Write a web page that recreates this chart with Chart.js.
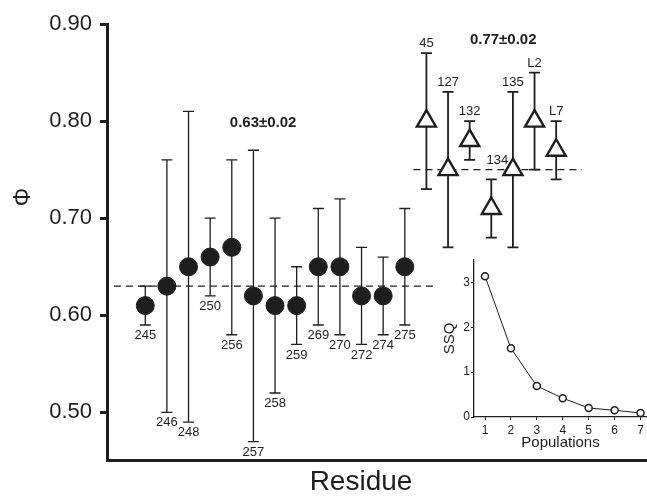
<!DOCTYPE html>
<html lang="en">
<head>
    <meta charset="UTF-8">
    <title>Phi values by residue</title>
    <script src="https://cdn.jsdelivr.net/npm/chart.js"></script>
    <style>
        body {
            margin: 0;
            background: #ffffff;
        }
        .wrap {
            position: relative;
            width: 647px;
            height: 502px;
        }
        #mainChart {
            position: absolute;
            left: 0;
            top: 0;
        }
        #insetChart {
            position: absolute;
            left: 425px;
            top: 250px;
        }
    </style>
</head>
<body>
    <div class="wrap">
        <canvas id="mainChart" width="647" height="502"></canvas>
        <canvas id="insetChart" width="222" height="205"></canvas>
    </div>

    <script>
        // filled circles: residues
        const residues = ['245', '246', '248', '250', '256', '257', '258', '259', '269', '270', '272', '274', '275'];
        const phiResidues = [0.61, 0.63, 0.65, 0.66, 0.67, 0.62, 0.61, 0.61, 0.65, 0.65, 0.62, 0.62, 0.65];
        const residuesHigh = [0.63, 0.76, 0.81, 0.70, 0.76, 0.77, 0.70, 0.65, 0.71, 0.72, 0.67, 0.66, 0.71];
        const residuesLow = [0.59, 0.50, 0.49, 0.62, 0.58, 0.47, 0.52, 0.57, 0.59, 0.58, 0.57, 0.58, 0.59];

        // open triangles
        const sites = ['45', '127', '132', '134', '135', 'L2', 'L7'];
        const phiSites = [0.80, 0.75, 0.78, 0.71, 0.75, 0.80, 0.77];
        const sitesHigh = [0.87, 0.83, 0.80, 0.74, 0.83, 0.85, 0.80];
        const sitesLow = [0.73, 0.67, 0.76, 0.68, 0.67, 0.75, 0.74];

        // population means
        const meanResidues = 0.63;
        const meanSites = 0.75;
        const meanLabels = ['0.63\u00b10.02', '0.77\u00b10.02'];

        // inset
        const populations = [1, 2, 3, 4, 5, 6, 7];
        const ssq = [3.14, 1.53, 0.69, 0.42, 0.20, 0.15, 0.09];

        const phiTicks = [0.50, 0.60, 0.70, 0.80, 0.90];
        const ssqTicks = [0, 1, 2, 3];

        const ink = '#1e1e1e';
        const family = '"Liberation Sans", Arial, Helvetica, sans-serif';

        const residuePoints = residues.map((r, i) => ({ x: i, y: phiResidues[i] }));
        const sitePoints = sites.map((s, i) => ({ x: residues.length + i, y: phiSites[i] }));

        // label 134 sits up and to the right, clear of the dashed line
        const labelNudge = { '134': [6, -9] };

        // error bars, point labels and free text
        const decorations = {
            id: 'decorations',
            beforeDatasetsDraw(chart) {
                const { ctx, scales: { x, y } } = chart;
                chart.data.datasets.forEach(ds => {
                    if (!ds.high) return;
                    ctx.save();
                    ctx.strokeStyle = ink;
                    ctx.lineWidth = ds.barWidth;
                    ds.data.forEach((p, i) => {
                        const px = x.getPixelForValue(p.x);
                        const top = y.getPixelForValue(ds.high[i]);
                        const bot = y.getPixelForValue(ds.low[i]);
                        ctx.beginPath();
                        ctx.moveTo(px, top);
                        ctx.lineTo(px, bot);
                        ctx.moveTo(px - 5.5, top);
                        ctx.lineTo(px + 5.5, top);
                        ctx.moveTo(px - 5.5, bot);
                        ctx.lineTo(px + 5.5, bot);
                        ctx.stroke();
                    });
                    ctx.restore();
                });
            },
            afterDatasetsDraw(chart) {
                const { ctx, scales: { x, y } } = chart;
                ctx.save();
                ctx.fillStyle = ink;
                ctx.font = '13px ' + family;
                ctx.textAlign = 'center';
                chart.data.datasets.forEach(ds => {
                    if (!ds.names) return;
                    ds.data.forEach((p, i) => {
                        const nudge = labelNudge[ds.names[i]] || [0, 0];
                        const px = x.getPixelForValue(p.x) + nudge[0];
                        if (ds.below) {
                            ctx.textBaseline = 'top';
                            ctx.fillText(ds.names[i], px, y.getPixelForValue(ds.low[i]) + 4 + nudge[1]);
                        } else {
                            ctx.textBaseline = 'bottom';
                            ctx.fillText(ds.names[i], px, y.getPixelForValue(ds.high[i]) - 3 + nudge[1]);
                        }
                    });
                });

                // mean values
                ctx.font = 'bold 15px ' + family;
                ctx.textBaseline = 'middle';
                ctx.fillText(meanLabels[0], x.getPixelForValue(5.45), y.getPixelForValue(0.798));
                ctx.fillText(meanLabels[1], x.getPixelForValue(16.55), y.getPixelForValue(0.884));

                // axis titles
                ctx.font = '28px ' + family;
                ctx.fillText('Residue', 361, 482);
                ctx.save();
                ctx.translate(24, 197);
                ctx.rotate(-Math.PI / 2);
                ctx.font = '23px ' + family;
                ctx.fillText('\u03a6', 0, 0);
                ctx.restore();
                ctx.restore();
            }
        };

        const mainChart = new Chart(document.getElementById('mainChart'), {
            type: 'scatter',
            data: {
                datasets: [
                    {
                        label: 'Residues',
                        data: residuePoints,
                        names: residues,
                        high: residuesHigh,
                        low: residuesLow,
                        below: true,
                        barWidth: 1.3,
                        pointStyle: 'circle',
                        pointRadius: 9,
                        pointBackgroundColor: ink,
                        pointBorderColor: ink,
                        pointBorderWidth: 1
                    },
                    {
                        label: 'Sites',
                        data: sitePoints,
                        names: sites,
                        high: sitesHigh,
                        low: sitesLow,
                        below: false,
                        barWidth: 1.8,
                        pointStyle: 'triangle',
                        pointRadius: 11,
                        pointBackgroundColor: '#ffffff',
                        pointBorderColor: ink,
                        pointBorderWidth: 2.4
                    },
                    {
                        type: 'line',
                        label: 'Mean residues',
                        data: [{ x: -1.45, y: meanResidues }, { x: 13.35, y: meanResidues }],
                        borderColor: ink,
                        borderWidth: 1.2,
                        borderDash: [7, 5],
                        pointRadius: 0
                    },
                    {
                        type: 'line',
                        label: 'Mean sites',
                        data: [{ x: 12.4, y: meanSites }, { x: 20.2, y: meanSites }],
                        borderColor: ink,
                        borderWidth: 1.2,
                        borderDash: [7, 5],
                        pointRadius: 0
                    }
                ]
            },
            options: {
                responsive: false,
                animation: false,
                layout: {
                    autoPadding: false,
                    padding: { top: 24, right: 0, bottom: 0, left: 0 }
                },
                plugins: {
                    legend: { display: false },
                    tooltip: { enabled: false }
                },
                scales: {
                    x: {
                        type: 'linear',
                        min: -1.77,
                        max: 23.2,
                        ticks: { display: false },
                        grid: { display: false },
                        border: { display: true, width: 3, color: ink },
                        afterFit(scale) { scale.height = 42; }
                    },
                    y: {
                        min: 0.451,
                        max: 0.9,
                        afterBuildTicks(scale) {
                            scale.ticks = phiTicks.map(v => ({ value: v }));
                        },
                        ticks: {
                            color: ink,
                            padding: 8,
                            font: { size: 22, family: family },
                            callback: v => v.toFixed(2)
                        },
                        grid: {
                            drawOnChartArea: false,
                            tickLength: 7,
                            tickWidth: 3,
                            tickColor: ink
                        },
                        border: { display: true, width: 3, color: ink },
                        afterFit(scale) { scale.width = 107; }
                    }
                }
            },
            plugins: [decorations]
        });

        const insetChart = new Chart(document.getElementById('insetChart'), {
            type: 'line',
            data: {
                datasets: [{
                    label: 'SSQ',
                    data: populations.map((p, i) => ({ x: p, y: ssq[i] })),
                    borderColor: ink,
                    borderWidth: 1,
                    pointRadius: 3.5,
                    pointBackgroundColor: '#ffffff',
                    pointBorderColor: ink,
                    pointBorderWidth: 1.5
                }]
            },
            options: {
                responsive: false,
                animation: false,
                layout: {
                    autoPadding: false,
                    padding: { top: 10, right: 0, bottom: 0, left: 0 }
                },
                plugins: {
                    legend: { display: false },
                    tooltip: { enabled: false }
                },
                scales: {
                    x: {
                        type: 'linear',
                        min: 0.575,
                        max: 7.25,
                        afterBuildTicks(scale) {
                            scale.ticks = populations.map(v => ({ value: v }));
                        },
                        ticks: {
                            color: ink,
                            padding: 3,
                            font: { size: 12, family: family }
                        },
                        grid: {
                            drawOnChartArea: false,
                            tickLength: 3,
                            tickColor: ink
                        },
                        border: { display: true, width: 1.3, color: ink },
                        title: {
                            display: true,
                            text: 'Populations',
                            color: ink,
                            padding: { top: 0, bottom: 3 },
                            font: { size: 15, family: family }
                        },
                        afterFit(scale) { scale.height = 38; }
                    },
                    y: {
                        min: 0,
                        max: 3.5,
                        afterBuildTicks(scale) {
                            scale.ticks = ssqTicks.map(v => ({ value: v }));
                        },
                        ticks: {
                            color: ink,
                            padding: 1,
                            font: { size: 12, family: family }
                        },
                        grid: {
                            drawOnChartArea: false,
                            tickLength: 3,
                            tickColor: ink
                        },
                        border: { display: true, width: 1.3, color: ink },
                        title: {
                            display: true,
                            text: 'SSQ',
                            color: ink,
                            padding: { top: 16, bottom: 0 },
                            font: { size: 15, family: family }
                        },
                        afterFit(scale) { scale.width = 49; }
                    }
                }
            }
        });
    </script>
</body>
</html>
